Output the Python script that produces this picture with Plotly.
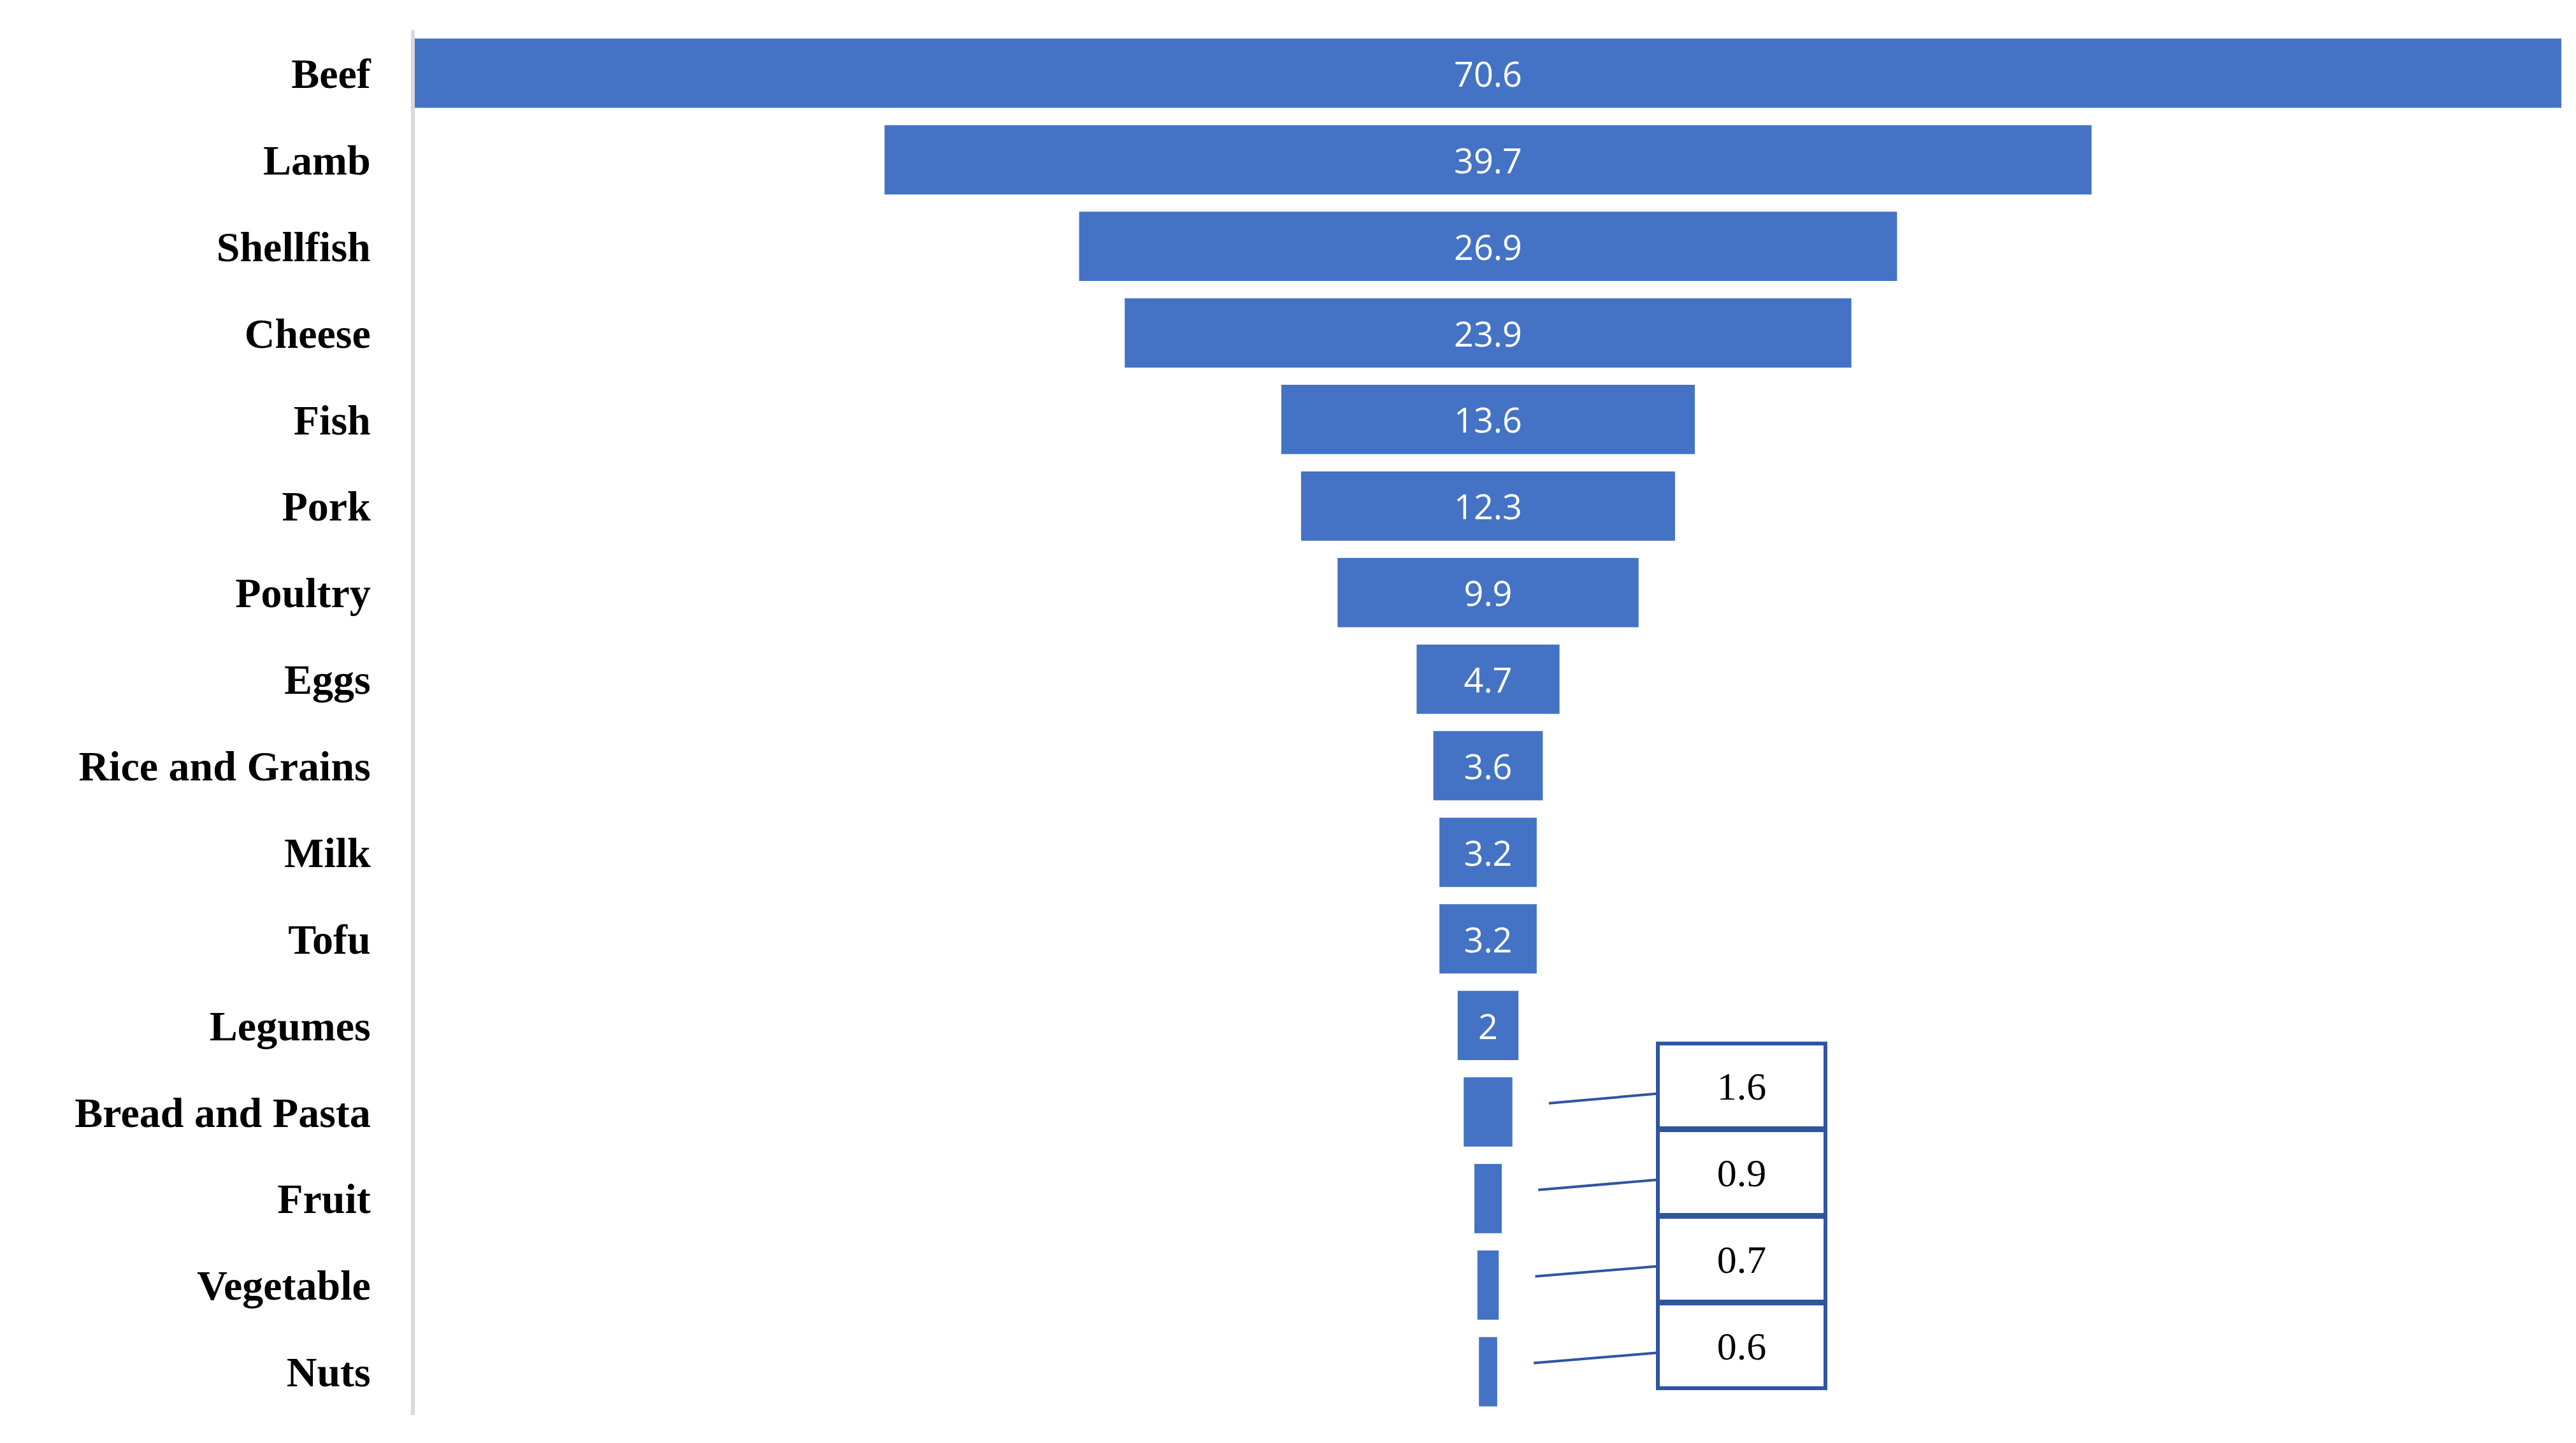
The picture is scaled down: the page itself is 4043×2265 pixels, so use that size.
import plotly.graph_objects as go

foods = ['Beef', 'Lamb', 'Shellfish', 'Cheese', 'Fish', 'Pork', 'Poultry', 'Eggs',
         'Rice and Grains', 'Milk', 'Tofu', 'Legumes', 'Bread and Pasta', 'Fruit',
         'Vegetable', 'Nuts']
emissions = [70.6, 39.7, 26.9, 23.9, 13.6, 12.3, 9.9, 4.7, 3.6, 3.2, 3.2, 2, 1.6, 0.9, 0.7, 0.6]
# the last four small bars get callout boxes instead of inside labels
callout_foods = ['Bread and Pasta', 'Fruit', 'Vegetable', 'Nuts']

inside_text = ['' if f in callout_foods else f'{v:g}' for f, v in zip(foods, emissions)]

fig = go.Figure(go.Funnel(
    y=foods, x=emissions, text=inside_text, texttemplate='%{text}',
    textposition='inside', insidetextanchor='middle',
    textfont=dict(family='Open Sans', size=54, color='white'),
    marker=dict(color='#4472C4', line=dict(width=0)),
    connector=dict(visible=False),
))

half = max(emissions) / 2
for f in callout_foods:
    i = foods.index(f)
    v = emissions[i]
    fig.add_annotation(
        x=v / 2 + 1.2, y=i - 0.1, xref='x', yref='y',
        ax=8.35, ay=i - 0.3, axref='x', ayref='y',
        text=f'{v:g}', showarrow=True, arrowhead=0, arrowwidth=4,
        arrowcolor='#2F55A0', bordercolor='#2F55A0', borderwidth=6,
        bgcolor='white', width=255, height=125, align='center', valign='middle',
        font=dict(family='Liberation Serif', size=62, color='black'),
    )

fig.update_layout(
    width=4043, height=2265, plot_bgcolor='white', paper_bgcolor='white',
    margin=dict(l=643, r=31, t=39, b=52), bargap=0.06, showlegend=False,
    xaxis=dict(visible=False, range=[-half, half]),
    yaxis=dict(showline=True, linecolor='#D9D9D9', linewidth=6, ticks='',
               ticklabelstandoff=50,
               tickfont=dict(family='Liberation Serif', size=66, color='black', weight='bold')),
)
fig.write_html('out.html')
